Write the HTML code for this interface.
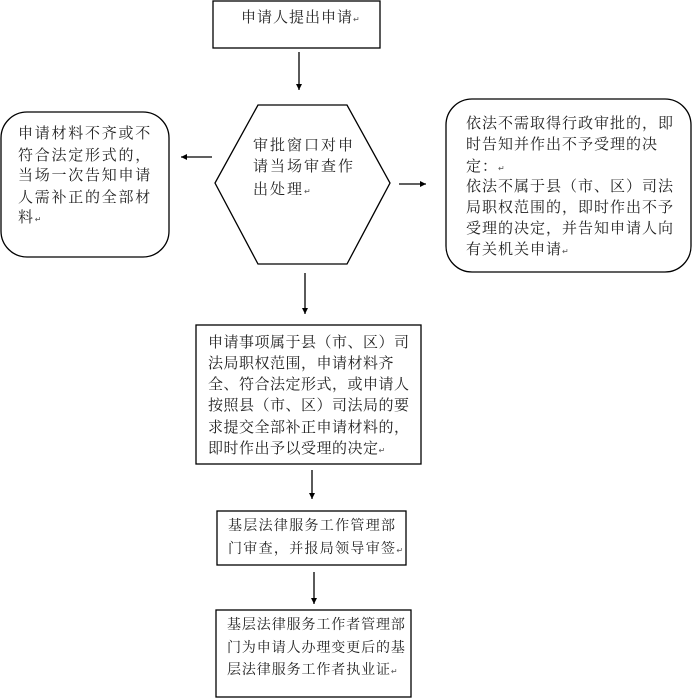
<!DOCTYPE html>
<html><head><meta charset="utf-8"><style>
html,body{margin:0;padding:0;background:#fff;}
body{width:692px;height:699px;position:relative;overflow:hidden;font-family:"Liberation Serif","Noto Serif CJK SC","Noto Sans CJK SC",serif;color:#222;}
.l{position:absolute;white-space:nowrap;font-size:15px;line-height:18px;}
.r{font-size:8px;color:#555;letter-spacing:0;}
svg{position:absolute;left:0;top:0;}
</style></head><body>
<svg width="692" height="699" viewBox="0 0 692 699">
<defs><marker id="a" markerWidth="8" markerHeight="8" refX="6" refY="3" orient="auto" markerUnits="userSpaceOnUse"><path d="M0,0 L6,3 L0,6 Z" fill="#000"/></marker></defs>
<g fill="none" stroke="#000" stroke-width="1.3">
<rect x="213" y="1" width="167" height="47"/>
<polygon points="258,105 347,105 390,183 347,264 258,264 215,183"/>
<rect x="1" y="112" width="168" height="145" rx="26"/>
<rect x="446" y="99" width="245" height="173" rx="26"/>
<rect x="196" y="325" width="225" height="139"/>
<rect x="217" y="511" width="189" height="54"/>
<rect x="216" y="610" width="195" height="87"/>
<line x1="299" y1="52" x2="299" y2="90" marker-end="url(#a)"/>
<line x1="212" y1="157" x2="181" y2="157" marker-end="url(#a)"/>
<line x1="399" y1="184" x2="426" y2="184" marker-end="url(#a)"/>
<line x1="305" y1="273" x2="305" y2="314" marker-end="url(#a)"/>
<line x1="312" y1="470" x2="312" y2="499" marker-end="url(#a)"/>
<line x1="314" y1="572" x2="314" y2="604" marker-end="url(#a)"/>
</g></svg>

<div class="l" style="left:241px;top:9px;letter-spacing:1px">申请人提出申请<span class="r">↵</span></div>

<div class="l" style="left:253px;top:137px;letter-spacing:2px">审批窗口对申</div>
<div class="l" style="left:253px;top:158px;letter-spacing:2px">请当场审查作</div>
<div class="l" style="left:253px;top:181px;letter-spacing:2px">出处理<span class="r">↵</span></div>

<div class="l" style="left:18px;top:125px;letter-spacing:1.75px">申请材料不齐或不</div>
<div class="l" style="left:18px;top:147px;letter-spacing:1.75px">符合法定形式的，</div>
<div class="l" style="left:18px;top:167px;letter-spacing:1.75px">当场一次告知申请</div>
<div class="l" style="left:18px;top:189px;letter-spacing:1.75px">人需补正的全部材</div>
<div class="l" style="left:18px;top:209px;letter-spacing:1.75px">料<span class="r">↵</span></div>

<div class="l" style="left:466px;top:115px;letter-spacing:1px">依法不需取得行政审批的，即</div>
<div class="l" style="left:466px;top:136px;letter-spacing:1px">时告知并作出不予受理的决</div>
<div class="l" style="left:466px;top:158px;letter-spacing:1px">定：<span class="r">↵</span></div>
<div class="l" style="left:466px;top:178px;letter-spacing:1px">依法不属于县（市、区）司法</div>
<div class="l" style="left:466px;top:199px;letter-spacing:1px">局职权范围的，即时作出不予</div>
<div class="l" style="left:466px;top:220px;letter-spacing:1px">受理的决定，并告知申请人向</div>
<div class="l" style="left:466px;top:241px;letter-spacing:1px">有关机关申请<span class="r">↵</span></div>

<div class="l" style="left:208px;top:334px;letter-spacing:0.5px">申请事项属于县（市、区）司</div>
<div class="l" style="left:208px;top:355px;letter-spacing:0.5px">法局职权范围，申请材料齐</div>
<div class="l" style="left:208px;top:376px;letter-spacing:0.5px">全、符合法定形式，或申请人</div>
<div class="l" style="left:208px;top:397px;letter-spacing:0.5px">按照县（市、区）司法局的要</div>
<div class="l" style="left:208px;top:419px;letter-spacing:0.5px">求提交全部补正申请材料的，</div>
<div class="l" style="left:208px;top:440px;letter-spacing:0.5px">即时作出予以受理的决定<span class="r">↵</span></div>

<div class="l" style="left:228px;top:518px;font-size:14px;letter-spacing:1.3px">基层法律服务工作管理部</div>
<div class="l" style="left:228px;top:541px;font-size:14px;letter-spacing:1.3px">门审查，并报局领导审签<span class="r">↵</span></div>

<div class="l" style="left:227px;top:617px;font-size:14px;letter-spacing:0.9px">基层法律服务工作者管理部</div>
<div class="l" style="left:227px;top:640px;font-size:14px;letter-spacing:0.9px">门为申请人办理变更后的基</div>
<div class="l" style="left:227px;top:662px;font-size:14px;letter-spacing:0.9px">层法律服务工作者执业证<span class="r">↵</span></div>
</body></html>
